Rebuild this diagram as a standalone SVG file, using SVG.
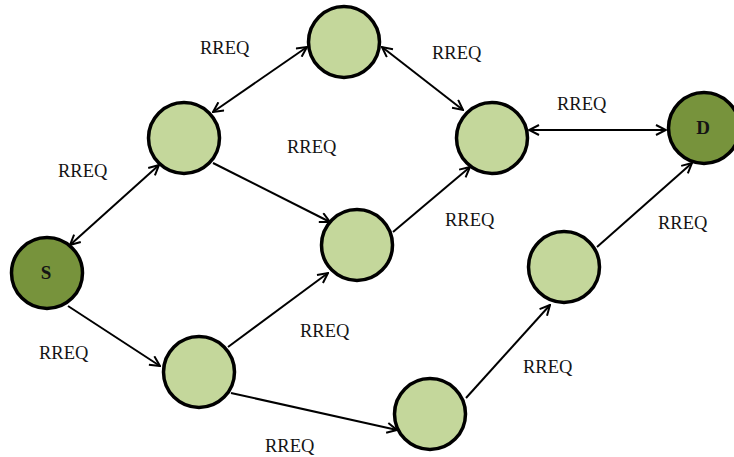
<svg xmlns="http://www.w3.org/2000/svg" width="734" height="457" viewBox="0 0 734 457">
<style>
.n{fill:#c4d79b;stroke:#000;stroke-width:3.5}
.d{fill:#77933c;stroke:#000;stroke-width:3.5}
.e{stroke:#000;stroke-width:2;fill:none}
.lbl{font-family:"Liberation Serif","Times New Roman",serif;font-size:18.5px;fill:#141414}
.nt{font-family:"Liberation Serif","Times New Roman",serif;font-size:19px;font-weight:bold;fill:#141414;text-anchor:middle}
</style>
<defs>
<marker id="ar" viewBox="0 0 12 12" refX="11" refY="6" markerWidth="12" markerHeight="12" markerUnits="userSpaceOnUse" orient="auto-start-reverse">
<path d="M1,1 L11,6 L1,11" fill="none" stroke="#000" stroke-width="2"/>
</marker>
</defs>
<rect width="734" height="457" fill="#fff"/>
<g id="connectors">
<line class="e" x1="213" y1="112" x2="307" y2="47" marker-start="url(#ar)" marker-end="url(#ar)"/>
<line class="e" x1="382" y1="47" x2="463" y2="110" marker-start="url(#ar)" marker-end="url(#ar)"/>
<line class="e" x1="529" y1="130" x2="666" y2="130" marker-start="url(#ar)" marker-end="url(#ar)"/>
<line class="e" x1="70" y1="245" x2="159" y2="165" marker-start="url(#ar)" marker-end="url(#ar)"/>
<line class="e" x1="213" y1="163" x2="330" y2="222" marker-end="url(#ar)"/>
<line class="e" x1="393" y1="232" x2="470" y2="167" marker-end="url(#ar)"/>
<line class="e" x1="68" y1="306" x2="160" y2="366" marker-end="url(#ar)"/>
<line class="e" x1="228" y1="347" x2="328" y2="273" marker-end="url(#ar)"/>
<line class="e" x1="231" y1="393" x2="397" y2="430" marker-end="url(#ar)"/>
<line class="e" x1="466" y1="398" x2="550" y2="305" marker-end="url(#ar)"/>
<line class="e" x1="597" y1="247" x2="692" y2="163" marker-end="url(#ar)"/>
</g>
<g id="labels">
<text class="lbl" x="200" y="54">RREQ</text>
<text class="lbl" x="287" y="153">RREQ</text>
<text class="lbl" x="58" y="177">RREQ</text>
<text class="lbl" x="432" y="59">RREQ</text>
<text class="lbl" x="557" y="110">RREQ</text>
<text class="lbl" x="445" y="226">RREQ</text>
<text class="lbl" x="658" y="229">RREQ</text>
<text class="lbl" x="39" y="359">RREQ</text>
<text class="lbl" x="300" y="337">RREQ</text>
<text class="lbl" x="265" y="452">RREQ</text>
<text class="lbl" x="523" y="373">RREQ</text>
</g>
<g id="node-top"><circle class="n" cx="344" cy="42" r="35.5"/></g>
<g id="node-upper-left"><circle class="n" cx="184" cy="138" r="35.5"/></g>
<g id="node-upper-right"><circle class="n" cx="492" cy="138" r="35.5"/></g>
<g id="node-D"><circle class="d" cx="704" cy="128" r="35.5"/><text class="nt" x="703" y="134">D</text></g>
<g id="node-middle"><circle class="n" cx="357" cy="245" r="35.5"/></g>
<g id="node-S"><circle class="d" cx="47" cy="273" r="35.5"/><text class="nt" x="46" y="279">S</text></g>
<g id="node-lower-left"><circle class="n" cx="199" cy="372" r="35.5"/></g>
<g id="node-right-middle"><circle class="n" cx="564" cy="267" r="35.5"/></g>
<g id="node-bottom"><circle class="n" cx="430" cy="414" r="35.5"/></g>
</svg>
